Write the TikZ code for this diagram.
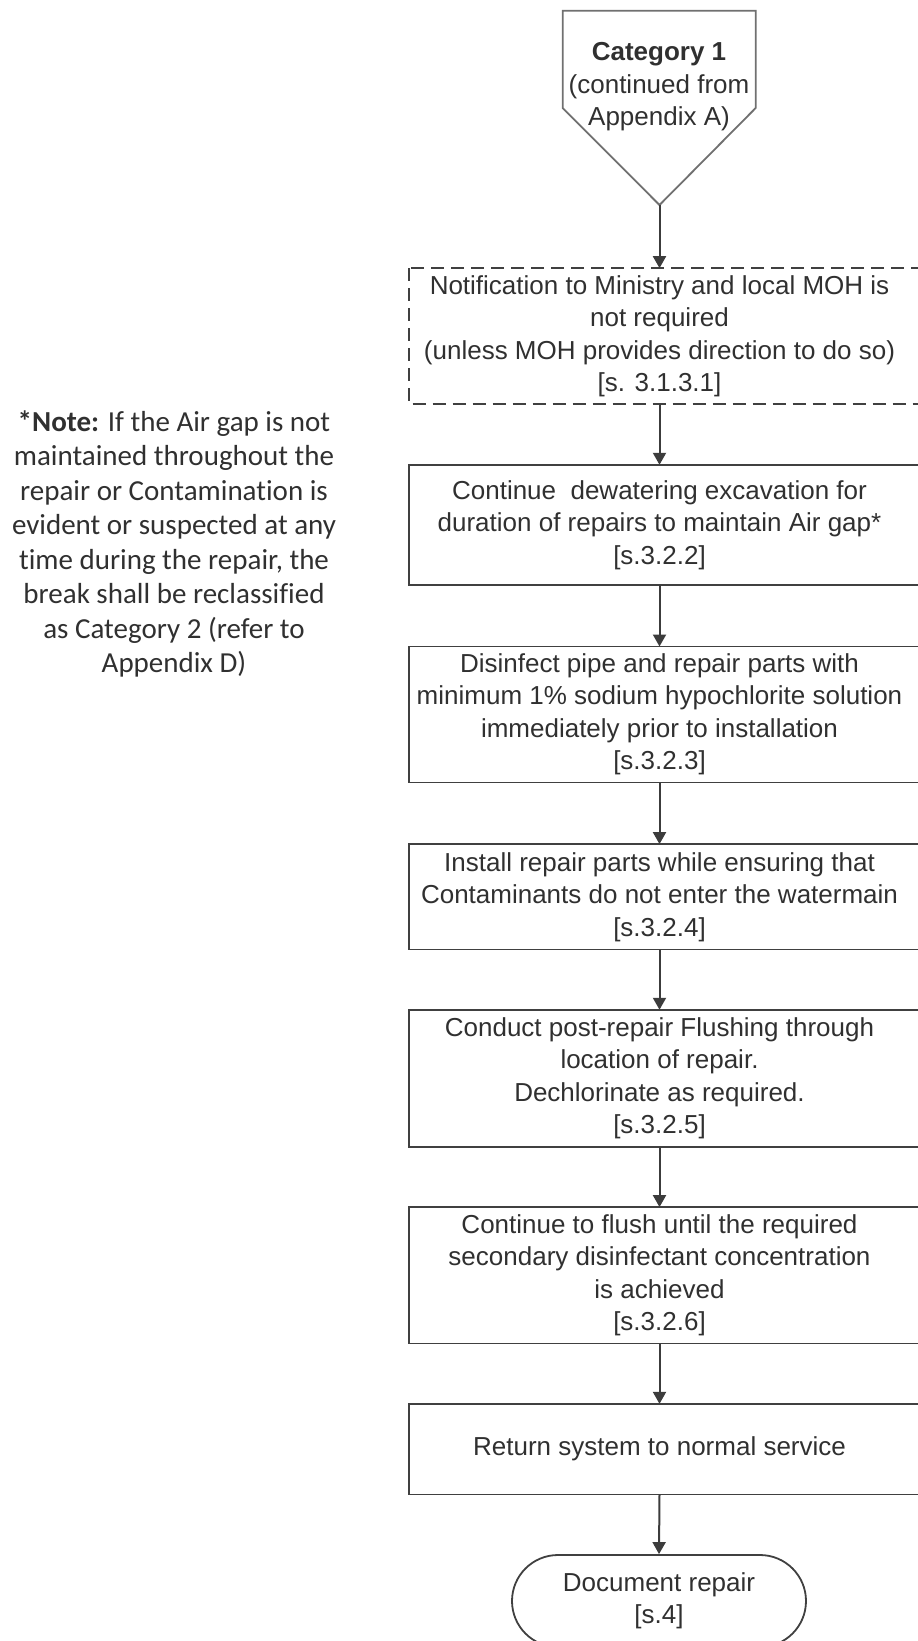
\documentclass[tikz,border=0pt]{standalone}
\usepackage{fontspec}
\setmainfont{Liberation Sans}
\newfontfamily\notefont[Ligatures=NoCommon]{Carlito}
\usetikzlibrary{arrows.meta}
\definecolor{boxline}{HTML}{404040}
\definecolor{pentline}{HTML}{707070}
\definecolor{txt}{HTML}{303030}
\definecolor{arrcol}{HTML}{3C3C3C}
\begin{document}
\begin{tikzpicture}[x=1pt,y=-1pt,
  boxtext/.style={align=center, text=txt, font=\fontsize{26}{32.5}\selectfont, minimum width=501pt, inner sep=0pt},
  boxframe/.style={draw=boxline, line width=1.8pt},
  dashframe/.style={draw=boxline, line width=1.8pt, dash pattern=on 13pt off 7pt},
  conn/.style={draw=arrcol, line width=2pt, -{Triangle[width=13pt,length=12pt]}},
  termbox/.style={draw=boxline, line width=1.8pt, rounded corners=46pt, align=center, text=txt, font=\fontsize{26}{32.5}\selectfont, minimum width=294pt, minimum height=92pt, inner sep=0pt},
  notetext/.style={align=center, text=txt, font=\notefont\fontsize{29}{34.5}\selectfont, inner sep=0pt}
]
\useasboundingbox (0,0) rectangle (918,1641);
\clip (0,0) rectangle (918,1641);

% start pentagon
\draw[draw=pentline, line width=1.8pt, line join=miter] (562.7,10.7) -- (755.7,10.7) -- (755.7,108) -- (659.5,205) -- (562.7,108) -- cycle;
\coordinate (ptip) at (659.5,205);
\node[align=center, text=txt, font=\fontsize{26}{32.5}\selectfont, inner sep=0pt] (cat) at (659,87) {\textbf{Category 1}\\(continued from\\Appendix A)};

% boxes
\node[boxtext, minimum height=135.7pt] (b1) at (659.5,336.2) {Notification to Ministry and local MOH is\\not required\\(unless MOH provides direction to do so)\\{[s. 3.1.3.1]}};
\draw[dashframe] (b1.north west) rectangle ([xshift=30pt]b1.south east);

\node[boxtext, minimum height=120pt] (b2) at (659.5,525) {Continue\ \ dewatering excavation for\\duration of repairs to maintain Air gap*\\{[s.3.2.2]}};
\draw[boxframe] (b2.north west) rectangle ([xshift=30pt]b2.south east);

\node[boxtext, minimum height=135.6pt] (b3) at (659.5,714.5) {Disinfect pipe and repair parts with\\minimum 1\% sodium hypochlorite solution\\immediately prior to installation\\{[s.3.2.3]}};
\draw[boxframe] (b3.north west) rectangle ([xshift=30pt]b3.south east);

\node[boxtext, minimum height=105pt] (b4) at (659.5,896.8) {Install repair parts while ensuring that\\Contaminants do not enter the watermain\\{[s.3.2.4]}};
\draw[boxframe] (b4.north west) rectangle ([xshift=30pt]b4.south east);

\node[boxtext, minimum height=136.7pt] (b5) at (659.5,1078.3) {Conduct post-repair Flushing through\\location of repair.\\Dechlorinate as required.\\{[s.3.2.5]}};
\draw[boxframe] (b5.north west) rectangle ([xshift=30pt]b5.south east);

\node[boxtext, minimum height=136pt] (b6) at (659.5,1275.3) {Continue to flush until the required\\secondary disinfectant concentration\\is achieved\\{[s.3.2.6]}};
\draw[boxframe] (b6.north west) rectangle ([xshift=30pt]b6.south east);

\node[boxtext, minimum height=90.3pt] (b7) at (659.5,1449.2) {Return system to normal service};
\draw[boxframe] (b7.north west) rectangle ([xshift=30pt]b7.south east);

\node[termbox] (term) at (659,1601) {Document repair\\{[s.4]}};

% note
\node[notetext] (note) at (174,544) {\textbf{*Note:} If the Air gap is not\\maintained throughout the\\repair or Contamination is\\evident or suspected at any\\time during the repair, the\\break shall be reclassified\\as Category 2 (refer to\\Appendix D)};

% connectors
\draw[conn] (ptip) -- (b1.north);
\draw[conn] (b1.south) -- (b2.north);
\draw[conn] (b2.south) -- (b3.north);
\draw[conn] (b3.south) -- (b4.north);
\draw[conn] (b4.south) -- (b5.north);
\draw[conn] (b5.south) -- (b6.north);
\draw[conn] (b6.south) -- (b7.north);
\draw[conn] (b7.south) -- (term.north);
\end{tikzpicture}
\end{document}
